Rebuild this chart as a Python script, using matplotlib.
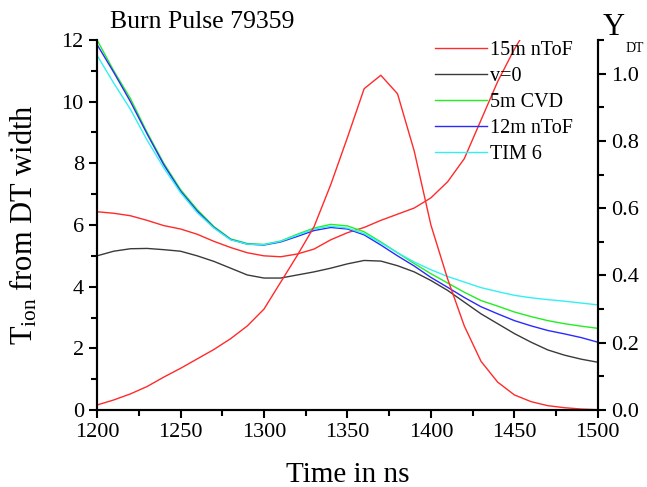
import matplotlib
matplotlib.use("Agg")
import matplotlib.pyplot as plt
from matplotlib.ticker import MultipleLocator

plt.rcParams['font.family'] = ['Liberation Serif', 'DejaVu Serif']
plt.rcParams['mathtext.fontset'] = 'custom'
plt.rcParams['mathtext.rm'] = 'Liberation Serif'
plt.rcParams['mathtext.it'] = 'Liberation Serif:italic'

time_ns = list(range(1200, 1510, 10))

t_15m_ntof = [6.43, 6.38, 6.30, 6.15, 5.98, 5.87, 5.70, 5.47, 5.27, 5.10,
              5.00, 4.97, 5.06, 5.22, 5.52, 5.75, 5.92, 6.15, 6.35, 6.55,
              6.88, 7.40, 8.15, 9.40, 10.65, 11.70, 12.60]
t_v0 = [5.00, 5.15, 5.23, 5.24, 5.20, 5.15, 5.00, 4.82, 4.60, 4.38,
        4.28, 4.28, 4.38, 4.48, 4.60, 4.74, 4.85, 4.83, 4.68, 4.48,
        4.20, 3.88, 3.50, 3.12, 2.80, 2.48, 2.20, 1.95, 1.78, 1.65, 1.55]
t_5m_cvd = [12.00, 11.00, 10.10, 9.00, 8.00, 7.15, 6.50, 5.95, 5.55, 5.40,
            5.37, 5.48, 5.70, 5.90, 6.02, 5.97, 5.78, 5.45, 5.10, 4.75,
            4.42, 4.12, 3.82, 3.55, 3.37, 3.18, 3.03, 2.90, 2.80, 2.72, 2.65]
t_12m_ntof = [11.85, 10.95, 10.00, 8.95, 7.95, 7.10, 6.45, 5.92, 5.53, 5.38,
              5.35, 5.45, 5.63, 5.82, 5.92, 5.87, 5.68, 5.35, 5.00, 4.67,
              4.30, 3.98, 3.65, 3.35, 3.12, 2.90, 2.73, 2.58, 2.47, 2.35, 2.20]
t_tim6 = [11.50, 10.60, 9.75, 8.75, 7.85, 7.05, 6.40, 5.90, 5.52, 5.38,
          5.36, 5.47, 5.67, 5.87, 5.96, 5.90, 5.72, 5.42, 5.10, 4.80,
          4.55, 4.33, 4.15, 3.97, 3.84, 3.72, 3.64, 3.58, 3.53, 3.47, 3.41]
y_dt = [0.015, 0.030, 0.048, 0.070, 0.098, 0.124, 0.152, 0.180, 0.212, 0.250,
        0.300, 0.380, 0.460, 0.545, 0.670, 0.810, 0.955, 0.995, 0.940, 0.770,
        0.550, 0.390, 0.250, 0.145, 0.083, 0.045, 0.025, 0.013, 0.007, 0.003, 0.001]

fig = plt.figure(figsize=(6.47, 4.87), dpi=100)
ax = fig.add_axes([0.150, 0.158, 0.774, 0.760])
ax2 = ax.twinx()

lw = 1.0
ax.plot(time_ns[:len(t_15m_ntof)], t_15m_ntof, color='#ff2a2a', lw=lw, label='15m nToF')
ax.plot(time_ns, t_v0, color='#3a3a3a', lw=lw, label='v=0')
ax.plot(time_ns, t_5m_cvd, color='#22ee22', lw=lw, label='5m CVD')
ax.plot(time_ns, t_12m_ntof, color='#2a2aff', lw=lw, label='12m nToF')
ax.plot(time_ns, t_tim6, color='#33f0f0', lw=lw, label='TIM 6')
ax2.plot(time_ns, y_dt, color='#ff2a2a', lw=lw)

ax.set_xlim(1200, 1500)
ax.set_ylim(0, 12)
ax2.set_ylim(0, 1.1)

ax.xaxis.set_major_locator(MultipleLocator(50))
ax.xaxis.set_minor_locator(MultipleLocator(25))
ax.yaxis.set_major_locator(MultipleLocator(2))
ax.yaxis.set_minor_locator(MultipleLocator(1))
ax2.yaxis.set_major_locator(MultipleLocator(0.2))
ax2.yaxis.set_minor_locator(MultipleLocator(0.1))
ax2.yaxis.set_major_formatter(plt.FuncFormatter(lambda v, p: f"{v:.1f}"))

for a in (ax, ax2):
    a.spines['top'].set_visible(False)
    for s in ('left', 'right', 'bottom'):
        a.spines[s].set_linewidth(1.5)
    a.tick_params(which='major', direction='out', length=6, width=1.5, labelsize=16)
    a.tick_params(which='minor', direction='out', length=4, width=1.5)

ax.set_xlabel('Time in ns', fontsize=21, labelpad=14)
ax.set_ylabel(r'T$_{\rm ion}$ from DT width', fontsize=22, labelpad=16)

fig.text(0.17, 0.955, 'Burn Pulse 79359', fontsize=18.5, ha='left', va='center')
fig.text(603 / 647, (487 - 35) / 487, 'Y', fontsize=22, ha='left', va='baseline')
fig.text(626 / 647, (487 - 52) / 487, 'DT', fontsize=10, ha='left', va='baseline')

leg = ax.legend(loc='upper left', bbox_to_anchor=(0.675, 0.998), frameon=False,
                fontsize=14.5, handlelength=2.6, handletextpad=0.15,
                labelspacing=0.35, borderaxespad=0, borderpad=0)

fig.savefig('out.png', dpi=100)
